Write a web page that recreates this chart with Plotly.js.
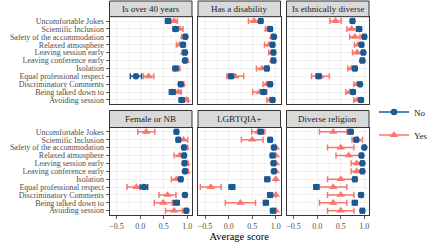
<!DOCTYPE html>
<html><head><meta charset="utf-8">
<script src="https://cdn.plot.ly/plotly-3.0.1.min.js"></script>
<style>html,body{margin:0;padding:0;background:#fff}#chart{width:427px;height:242px}</style>
</head><body><div id="chart"></div><script>
const categories = ["Uncomfortable Jokes","Scientific Inclusion","Safety of the accommodation","Relaxed atmosphere","Leaving session early","Leaving conference early","Isolation","Equal professional respect","Discriminatory Comments","Being talked down to","Avoiding session"];
const panelTitles = ["Is over 40 years","Has a disability","Is ethnically diverse","Female or NB","LGBTQIA+","Diverse religion"];
const seriesNames = ["No","Yes"];

const over40No     = [0.59,0.75,0.96,0.91,0.95,0.95,0.75,-0.09,0.86,0.68,0.88];
const over40NoErr  = [0.05,0.05,0.03,0.04,0.03,0.02,0.05,0.12,0.04,0.06,0.05];
const over40Yes    = [0.72,0.84,0.93,0.84,0.93,0.97,0.79,0.18,0.89,0.81,0.98];
const over40YesErr = [0.07,0.07,0.05,0.07,0.04,0.04,0.05,0.11,0.04,0.06,0.04];

const disabNo     = [0.68,0.88,0.96,0.93,0.95,0.95,0.81,0.05,0.88,0.74,0.93];
const disabNoErr  = [0.04,0.04,0.03,0.03,0.03,0.03,0.04,0.05,0.04,0.05,0.04];
const disabYes    = [0.54,0.84,0.94,0.86,0.91,0.94,0.71,0.14,0.81,0.66,0.88];
const disabYesErr = [0.12,0.06,0.04,0.10,0.06,0.04,0.12,0.18,0.08,0.15,0.07];

const ethnNo     = [0.75,0.89,1.00,0.94,0.98,0.96,0.80,0.03,0.91,0.76,0.93];
const ethnNoErr  = [0.04,0.05,0.03,0.03,0.03,0.03,0.04,0.05,0.03,0.04,0.04];
const ethnYes    = [0.39,0.73,0.80,0.87,0.85,0.96,0.73,0.07,0.85,0.69,0.85];
const ethnYesErr = [0.12,0.10,0.11,0.08,0.10,0.04,0.08,0.19,0.07,0.08,0.07];

const femNo     = [0.77,0.81,0.93,0.93,0.94,0.95,0.86,0.08,0.95,0.77,0.98];
const femNoErr  = [0.04,0.04,0.03,0.03,0.03,0.02,0.04,0.08,0.03,0.06,0.03];
const femYes    = [0.13,0.92,0.96,0.84,0.98,0.99,0.77,-0.08,0.58,0.49,0.72];
const femYesErr = [0.18,0.09,0.05,0.12,0.04,0.03,0.11,0.20,0.18,0.19,0.18];

const lgbtNo     = [0.68,0.88,0.96,0.93,0.95,0.96,0.82,0.07,0.88,0.79,0.94];
const lgbtNoErr  = [0.05,0.04,0.03,0.04,0.03,0.03,0.05,0.06,0.05,0.05,0.05];
const lgbtYes    = [0.63,0.50,1.00,1.00,1.00,1.00,1.00,-0.38,1.00,0.25,1.00];
const lgbtYesErr = [0.14,0.23,0,0,0,0,0,0.22,0,0.32,0];

const relNo     = [0.71,0.83,1.00,0.94,0.96,0.96,0.80,-0.02,0.93,0.80,0.96];
const relNoErr  = [0.05,0.04,0.02,0.03,0.03,0.03,0.04,0.05,0.04,0.05,0.04];
const relYes    = [0.34,0.85,0.50,0.67,0.84,0.84,0.50,0.34,0.50,0.34,0.50];
const relYesErr = [0.29,0.11,0.28,0.27,0.12,0.12,0.28,0.29,0.28,0.29,0.28];

const panelData = [
  [over40No, over40NoErr, over40Yes, over40YesErr],
  [disabNo, disabNoErr, disabYes, disabYesErr],
  [ethnNo, ethnNoErr, ethnYes, ethnYesErr],
  [femNo, femNoErr, femYes, femYesErr],
  [lgbtNo, lgbtNoErr, lgbtYes, lgbtYesErr],
  [relNo, relNoErr, relYes, relYesErr]
];

const W = 427, H = 242;
const FONT = "'Liberation Serif', 'Times New Roman', 'DejaVu Serif', serif";
const BLUE = "#1a5a91", SALMON = "#f8766d";
const colX = [[109.5,192],[198,280.5],[286.5,369]];
const rowY = [[16.7,104.3],[127.5,215]];
const stripY = [[1,16.7],[110.5,127.5]];
const px = v => v / W;
const py = v => 1 - v / H;

const traces = [];
traces.push({x:[null], y:[null], xaxis:'x', yaxis:'y', name:seriesNames[0], mode:'lines+markers', legend:'legend',
  line:{color:BLUE, width:1.5}, marker:{color:BLUE, size:6.5, symbol:'circle'}, showlegend:true, hoverinfo:'skip'});
traces.push({x:[null], y:[null], xaxis:'x', yaxis:'y', name:seriesNames[1], mode:'lines+markers', legend:'legend2',
  line:{color:SALMON, width:1.5}, marker:{color:SALMON, size:7.5, symbol:'triangle-up'}, showlegend:true, hoverinfo:'skip'});

const legendBase = {x:px(374), xanchor:'left', yanchor:'middle', font:{family:FONT, size:9, color:'#1a1a1a'},
  bgcolor:'rgba(0,0,0,0)', itemwidth:30};
const layout = {
  width: W, height: H, margin:{l:0,r:0,t:0,b:0, autoexpand:false},
  paper_bgcolor:'#fff', plot_bgcolor:'#fff',
  font:{family:FONT, size:8, color:'#4d4d4d'},
  showlegend:true,
  legend:Object.assign({}, legendBase, {y:py(112)}),
  legend2:Object.assign({}, legendBase, {y:py(135)}),
  shapes:[], annotations:[]
};

const revCats = categories.slice().reverse();

for (let i = 0; i < 6; i++) {
  const r = Math.floor(i / 3), c = i % 3;
  const xa = 'x' + (i === 0 ? '' : i + 1), ya = 'y' + (i === 0 ? '' : i + 1);
  const xk = 'xaxis' + (i === 0 ? '' : i + 1), yk = 'yaxis' + (i === 0 ? '' : i + 1);
  const [no, noErr, yes, yesErr] = panelData[i];
  traces.push({x:yes, y:categories, xaxis:xa, yaxis:ya, type:'scatter', mode:'markers', showlegend:false,
    marker:{color:SALMON, size:7.5, symbol:'triangle-up'},
    error_x:{type:'data', array:yesErr, visible:true, color:SALMON, thickness:1.5, width:3}});
  traces.push({x:no, y:categories, xaxis:xa, yaxis:ya, type:'scatter', mode:'markers', showlegend:false,
    marker:{color:BLUE, size:6.5, symbol:'circle'},
    error_x:{type:'data', array:noErr, visible:true, color:BLUE, thickness:1.5, width:3}});

  layout[xk] = {
    domain:[px(colX[c][0]), px(colX[c][1])], anchor:ya, range:[-0.65,1.1],
    tick0:0, dtick:0.5, tickformat:'.1f', showgrid:true, gridcolor:'#ebebeb', gridwidth:0.8,
    minor:{dtick:0.25, tick0:0, showgrid:true, gridcolor:'#f3f3f3', gridwidth:0.5},
    zeroline:false, showline:true, mirror:true, linecolor:'#333333', linewidth:1,
    showticklabels: r === 1, ticks: r === 1 ? 'outside' : '', ticklen:3, tickcolor:'#333333', tickwidth:0.8,
    tickfont:{family:FONT, size:8, color:'#4d4d4d'}
  };
  if (i === 4) {
    layout[xk].title = {text:'Average score', font:{family:FONT, size:10.5, color:'#000'}, standoff:3};
  }
  layout[yk] = {
    domain:[py(rowY[r][1]), py(rowY[r][0])], anchor:xa, type:'category',
    categoryorder:'array', categoryarray:revCats, range:[-0.55, 10.55],
    tickmode:'linear', tick0:0, dtick:1,
    showgrid:true, gridcolor:'#ebebeb', gridwidth:0.8, zeroline:false,
    showline:true, mirror:true, linecolor:'#333333', linewidth:1,
    showticklabels: c === 0, ticks: c === 0 ? 'outside' : '', ticklen:3, tickcolor:'#333333', tickwidth:0.8,
    tickfont:{family:FONT, size:8, color:'#4d4d4d'}
  };
  layout.shapes.push({type:'rect', xref:'paper', yref:'paper',
    x0:px(colX[c][0]), x1:px(colX[c][1]), y0:py(stripY[r][1]), y1:py(stripY[r][0]),
    fillcolor:'#d9d9d9', line:{color:'#333333', width:1}});
  layout.annotations.push({xref:'paper', yref:'paper', x:px((colX[c][0]+colX[c][1])/2), y:py((stripY[r][0]+stripY[r][1])/2),
    xanchor:'center', yanchor:'middle', showarrow:false, text:panelTitles[i],
    font:{family:FONT, size:9, color:'#1a1a1a'}});
}

Plotly.newPlot('chart', traces, layout, {displayModeBar:false, staticPlot:true});
</script></body></html>
